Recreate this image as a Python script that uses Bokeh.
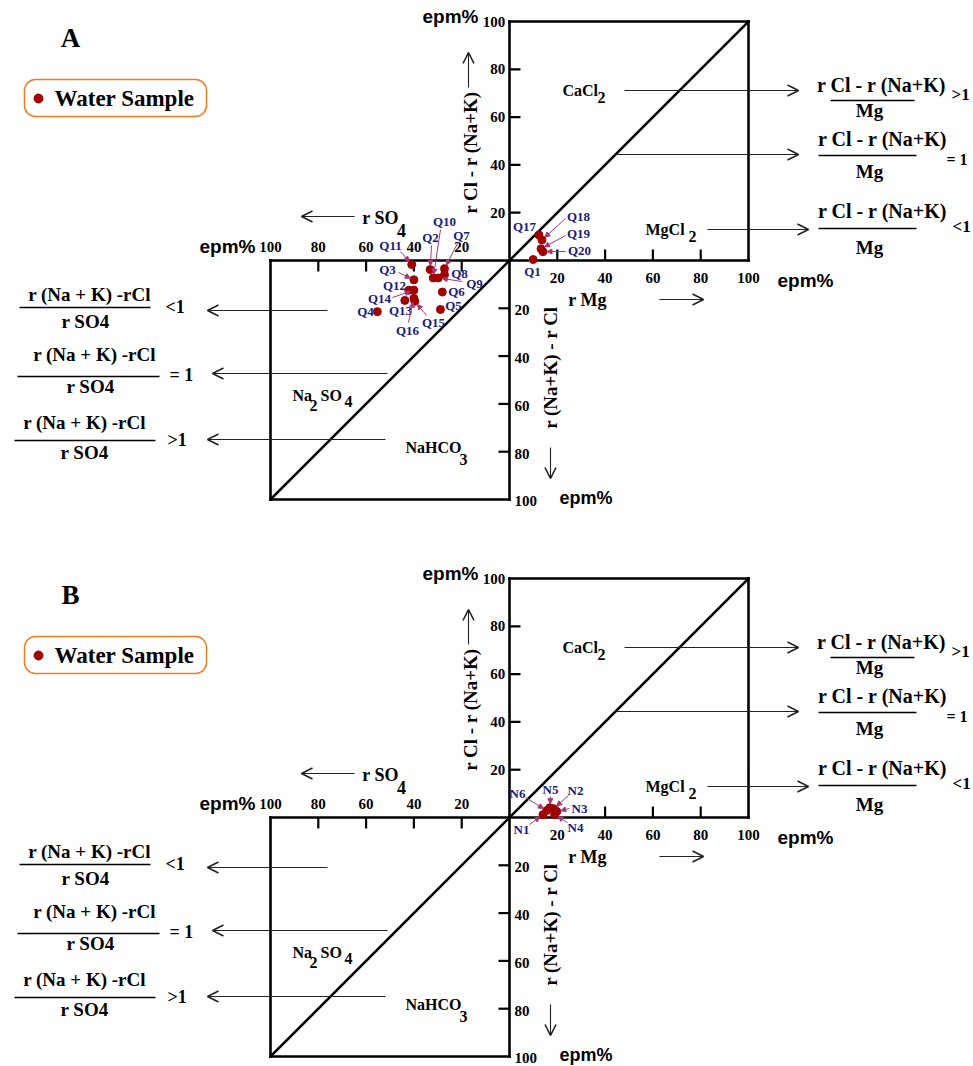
import math
from bokeh.plotting import figure
from bokeh.models import Range1d, Arrow, OpenHead, NormalHead, BoxAnnotation
from bokeh.layouts import column
from bokeh.core.properties import value
from bokeh.embed import file_html
from bokeh.resources import INLINE

# ---------------- data (epm %) ----------------
a_names = ["Q1", "Q2", "Q3", "Q4", "Q5", "Q6", "Q7", "Q8", "Q9", "Q10",
           "Q11", "Q12", "Q13", "Q14", "Q15", "Q16", "Q17", "Q18", "Q19", "Q20"]
a_x = [9.9, -33.2, -40.0, -55.3, -28.9, -28.1, -27.2, -27.2, -29.8, -31.9,
       -40.9, -42.1, -43.8, -40.0, -39.6, -40.0, 12.3, 13.6, 13.2, 14.0]
a_y = [0.4, -3.8, -8.1, -21.4, -20.5, -13.2, -3.4, -6.0, -7.3, -7.3,
       -1.7, -12.4, -16.7, -12.4, -17.1, -15.8, 10.7, 8.6, 4.9, 3.7]

b_names = ["N1", "N2", "N3", "N4", "N5", "N6"]
b_x = [14.0, 18.5, 19.8, 18.9, 16.9, 15.6]
b_y = [1.2, 3.7, 2.5, 1.2, 4.1, 2.9]

tick_vals = [20, 40, 60, 80, 100]
tick_labels = ["20", "40", "60", "80", "100"]

# ---------------- layout constants ----------------
S = 2.39          # px per epm%
W = 973
OX = 509          # origin x inside figure (px)
SERIF = "Liberation Serif"
SANS = "Liberation Sans"
NAVY = "#1B1B7E"
LEAD = "#A23B72"
DOT = "#A00000"
ARW = "#222222"

# label layout in reference pixels: name -> (x, y, leader start or None)
a_lab = {
    "Q1": (530, 274, None), "Q2": (428, 240, (429, 248)), "Q3": (385, 272, (396, 275)),
    "Q4": (363, 314, None), "Q5": (451, 308, None), "Q6": (454, 294, None),
    "Q7": (459, 238, (455, 246)), "Q8": (457, 276, None), "Q9": (472, 286, (460, 284)),
    "Q10": (442, 224, (438, 232)), "Q11": (388, 248, (398, 254)), "Q12": (392, 288, None),
    "Q13": (398, 313, None), "Q14": (377, 301, (390, 300)), "Q15": (431, 325, (424, 318)),
    "Q16": (405, 333, (406, 325)), "Q17": (522, 229, None), "Q18": (576, 219, (563, 221)),
    "Q19": (576, 236, (563, 238)), "Q20": (577, 253, (563, 254)),
}
b_lab = {
    "N1": (519, 832, (527, 827)), "N2": (573, 793, (566, 798)), "N3": (577, 811, (567, 811)),
    "N4": (573, 830, (565, 825)), "N5": (548, 792, (548, 799)), "N6": (515, 796, (523, 800)),
}


def make_fig(height, oy):
    p = figure(width=W, height=height,
               x_range=Range1d(-OX / S, (W - OX) / S),
               y_range=Range1d(-(height - oy) / S, oy / S),
               output_backend="svg", toolbar_location=None, min_border=0,
               x_axis_location=None, y_axis_location=None)
    p.grid.visible = False
    p.outline_line_color = None
    p.background_fill_color = "white"
    p.border_fill_color = "white"
    return p


def panel(p, letter, names, xs, ys, labs, dy):
    def R(px, py):
        return ((px - 507) / S, (263 - py) / S)

    def txt(px, py, s, size, color="black", align="center", font=SERIF, angle=0.0, style="bold"):
        x, y = R(px, py)
        p.text(x=[x], y=[y], text=[s], text_font=value(font), text_font_size=f"{size}px",
               text_font_style=style, text_color=color, text_align=align,
               text_baseline="middle", angle=angle)

    def hline(px0, px1, py, lw=1.5):
        x0, y0 = R(px0, py)
        x1, _ = R(px1, py)
        p.segment(x0=[x0], y0=[y0], x1=[x1], y1=[y0], line_width=lw, line_color="black")

    def arrow(px0, py0, px1, py1):
        x0, y0 = R(px0, py0)
        x1, y1 = R(px1, py1)
        p.add_layout(Arrow(end=OpenHead(size=11, line_width=1.6, line_color=ARW),
                           x_start=x0, y_start=y0, x_end=x1, y_end=y1,
                           line_width=1.1, line_color=ARW))

    # frame of the two squares, axes and diagonal
    p.segment(x0=[-100, 0, 0, 100, -100, -100, -100],
              y0=[0, -100, 100, 0, -100, -100, -100],
              x1=[100, 0, 100, 100, 0, -100, 100],
              y1=[0, 100, 100, 100, -100, 0, 100],
              line_width=2.6, line_color="black", line_cap="square")

    tl = 11 / S
    t4 = tick_vals[:4]
    zeros = [0] * 4
    p.segment(x0=zeros, y0=t4, x1=[tl] * 4, y1=t4, line_width=2.2, line_color="black")
    p.segment(x0=t4, y0=zeros, x1=t4, y1=[tl] * 4, line_width=2.2, line_color="black")
    p.segment(x0=zeros, y0=[-v for v in t4], x1=[-tl] * 4, y1=[-v for v in t4], line_width=2.2, line_color="black")
    p.segment(x0=[-v for v in t4], y0=zeros, x1=[-v for v in t4], y1=[-tl] * 4, line_width=2.2, line_color="black")

    common = dict(text_font=value(SERIF), text_font_size="15px", text_font_style="bold",
                  text_color="black", text_baseline="middle")
    p.text(x=[-1.8] * 5, y=tick_vals, text=tick_labels, text_align="right", **common)
    p.text(x=tick_vals, y=[-17 / S] * 5, text=tick_labels, text_align="center", **common)
    p.text(x=[2.1] * 5, y=[-v - 0.8 for v in tick_vals], text=tick_labels, text_align="left", **common)
    p.text(x=[-v for v in tick_vals], y=[14 / S] * 5, text=tick_labels, text_align="center", **common)

    # epm% labels
    txt(476, 19, "epm%", 19, align="right", font=SANS)
    txt(775, 283, "epm%", 19, align="left", font=SANS)
    txt(253, 249, "epm%", 19, align="right", font=SANS)
    txt(557, 500, "epm%", 18, align="left", font=SANS)

    # axis titles
    txt(468, 155, "r Cl - r (Na+K)", 19, angle=math.pi / 2)
    arrow(466, 90, 466, 55)
    txt(548, 370, "r (Na+K) - r Cl", 19, angle=math.pi / 2)
    arrow(548, 450, 548, 481)
    txt(585, 302, "r Mg", 18)
    arrow(657, 302, 701, 302)
    txt(378, 220, "r SO", 18)
    txt(399, 233, "4", 18)
    arrow(352, 219, 299, 219)

    # water type regions
    txt(560, 93, "CaCl", 16, align="left")
    txt(599, 100, "2", 16)
    arrow(622, 93, 796, 93)
    arrow(612, 157, 796, 157)
    txt(643, 232, "MgCl", 16, align="left")
    txt(690, 239, "2", 16)
    arrow(705, 232, 806, 232)
    txt(290, 398, "Na", 16, align="left")
    txt(311, 408, "2", 16)
    txt(318, 398, "SO", 16, align="left")
    txt(346, 404, "4", 16)
    txt(403, 450, "NaHCO", 16, align="left")
    txt(461, 462, "3", 16)

    # right-hand ratios
    txt(879, 87, "r Cl - r (Na+K)", 20)
    hline(828, 912, 103)
    txt(867, 113, "Mg", 19)
    txt(949, 97, ">1", 17, align="left")
    txt(880, 141, "r Cl - r (Na+K)", 20)
    hline(816, 914, 158)
    txt(867, 174, "Mg", 19)
    txt(944, 162, "= 1", 16, align="left")
    txt(880, 213, "r Cl - r (Na+K)", 20)
    hline(816, 914, 231)
    txt(867, 250, "Mg", 19)
    txt(950, 229, "<1", 17, align="left")

    # left-hand ratios
    txt(87, 297, "r (Na + K) -rCl", 19)
    hline(17, 148, 310)
    txt(83, 324, "r SO4", 19)
    txt(163, 309, "<1", 18, align="left")
    arrow(325, 313, 205, 313)
    txt(92, 357, "r (Na + K) -rCl", 19)
    hline(15, 157, 379)
    txt(88, 389, "r SO4", 19)
    txt(167, 377, "= 1", 18, align="left")
    arrow(385, 376, 210, 376)
    txt(82, 425, "r (Na + K) -rCl", 19)
    hline(12, 153, 443)
    txt(82, 455, "r SO4", 19)
    txt(165, 442, ">1", 18, align="left")
    arrow(383, 442, 205, 442)

    # legend
    l, t = R(22, 82)
    r, b = R(204, 119)
    p.add_layout(BoxAnnotation(left=l, right=r, top=t, bottom=b, fill_alpha=0,
                               line_color="#F47C20", line_alpha=1.0, line_width=1.5,
                               border_radius=11))
    dx, dyy = R(36, 101)
    p.scatter(x=[dx], y=[dyy], size=9, color=DOT)
    txt(52, 101, "Water Sample", 23, align="left")
    txt(68, 40, letter, 27)

    # sample labels and leaders
    pos = dict(zip(names, zip(xs, ys)))
    for n in names:
        lx, ly, lead = labs[n]
        txt(lx, ly - dy, n, 13, color=NAVY)
        if lead is not None:
            sx, sy = R(lead[0], lead[1] - dy)
            ex, ey = pos[n]
            ddx, ddy = ex - sx, ey - sy
            L = math.hypot(ddx, ddy)
            k = max(L - 4 / S, 0) / L
            p.add_layout(Arrow(end=NormalHead(size=5, fill_color=LEAD, line_color=LEAD),
                               x_start=sx, y_start=sy, x_end=sx + ddx * k, y_end=sy + ddy * k,
                               line_width=1, line_color=LEAD))

    p.scatter(x=xs, y=ys, size=8, color=DOT)


HA, HB = 555, 511
pA = make_fig(HA, 260)
pB = make_fig(HB, 817 - HA)
panel(pA, "A", a_names, a_x, a_y, a_lab, 0)
panel(pB, "B", b_names, b_x, b_y, b_lab, 557)

layout = column(pA, pB, spacing=0)
open("out.html", "w").write(file_html(layout, INLINE))
